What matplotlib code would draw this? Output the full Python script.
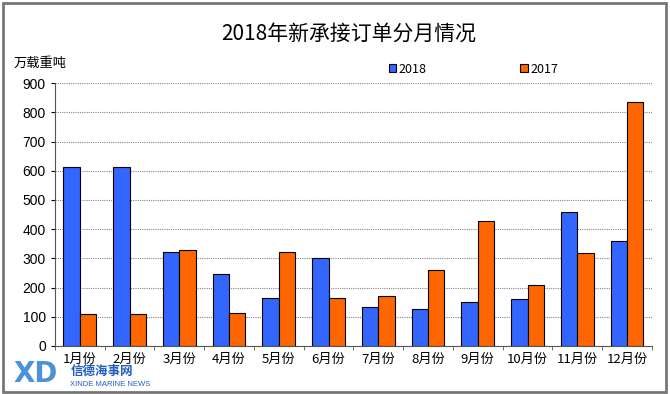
import matplotlib.pyplot as plt
import numpy as np
from matplotlib.patches import Rectangle

plt.rcParams['font.family'] = ['Noto Sans CJK SC', 'DejaVu Sans']

# Dati
mesi = ['1月份', '2月份', '3月份', '4月份', '5月份', '6月份',
        '7月份', '8月份', '9月份', '10月份', '11月份', '12月份']
ordini_2018 = [612, 612, 322, 245, 165, 300, 132, 128, 150, 162, 458, 360]
ordini_2017 = [110, 110, 330, 112, 320, 165, 172, 260, 428, 207, 318, 835]

fig = plt.figure(figsize=(6.7, 3.94), dpi=100)
ax = fig.add_axes([0.082, 0.122, 0.891, 0.667])

x = np.arange(len(mesi))
w = 0.33
ax.bar(x - w / 2, ordini_2018, w, color='#3366ff', edgecolor='black', linewidth=0.8, label='2018', zorder=3)
ax.bar(x + w / 2, ordini_2017, w, color='#ff6600', edgecolor='black', linewidth=0.8, label='2017', zorder=3)

ax.set_xlim(-0.5, len(mesi) - 0.5)
ax.set_ylim(0, 900)
ax.set_yticks(range(0, 901, 100))
ax.yaxis.grid(True, linestyle=(0, (1, 1)), color='#888888', linewidth=0.8, zorder=0)
ax.set_xticks(x)
ax.set_xticklabels(mesi, fontsize=9.5)
ax.tick_params(axis='y', labelsize=10, length=3)
ax.tick_params(axis='x', length=0, pad=5)
for lab in ax.get_yticklabels():
    lab.set_family(['Liberation Sans', 'DejaVu Sans'])
ax.spines['top'].set_visible(False)
ax.spines['right'].set_visible(False)
ax.spines['left'].set_color('#555555')
ax.spines['bottom'].set_color('#555555')
# tacche fra le categorie
ax.set_xticks(np.arange(-0.5, len(mesi), 1), minor=True)
ax.tick_params(axis='x', which='minor', length=3, color='#555555')

fig.text(0.52, 0.915, '2018年新承接订单分月情况', ha='center', va='center', fontsize=15)
fig.text(0.02, 0.84, '万载重吨', ha='left', va='center', fontsize=9.5)

ax.legend(loc='upper left', bbox_to_anchor=(0.54, 1.12), ncol=2, frameon=False,
          fontsize=9, handlelength=0.6, handleheight=0.6, columnspacing=7.5,
          handletextpad=0.2)

# cornice esterna
fig.patches.append(Rectangle((0.004, 0.006), 0.99, 0.986, transform=fig.transFigure,
                             fill=False, edgecolor='#777777', linewidth=2))

# filigrana
fig.text(0.02, 0.05, 'XD', ha='left', va='center', fontsize=20, fontweight='bold',
         color='#2a7fd4', alpha=0.85, family=['DejaVu Sans'])
fig.text(0.105, 0.057, '信德海事网', ha='left', va='center', fontsize=9,
         color='#1f5fbf', fontstyle='italic', fontweight='bold')
fig.text(0.105, 0.024, 'XINDE MARINE NEWS', ha='left', va='center', fontsize=5.5,
         color='#1f5fbf', family=['Liberation Sans'])

fig.savefig('out.png', dpi=100)
